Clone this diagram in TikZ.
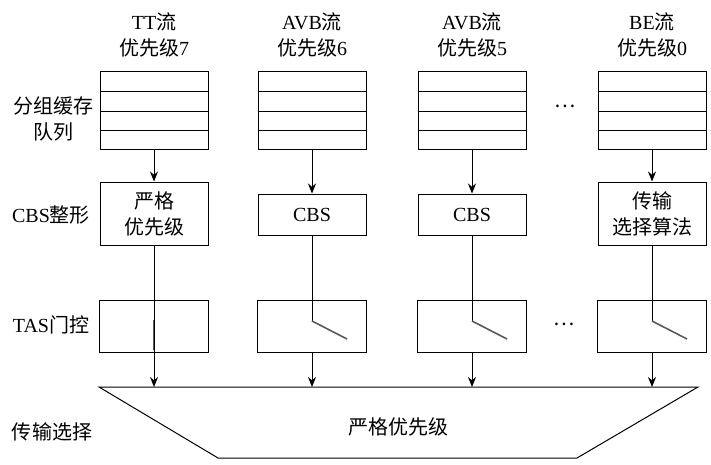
\documentclass[tikz,border=0pt]{standalone}
\usepackage{fontspec}
\setmainfont{Liberation Serif}
\newfontfamily\cjk{Noto Sans CJK SC}
\usetikzlibrary{calc,arrows.meta}
\tikzset{
  box/.style={draw, line width=1pt, minimum width=108pt, inner sep=0pt, align=center, font=\fontsize{20}{26}\selectfont},
  qbox/.style={box, minimum height=78pt},
  lbl/.style={align=center, font=\fontsize{20}{26}\selectfont, inner sep=0pt},
  conn/.style={line width=1pt, -{Stealth[length=10pt,width=8pt]}},
  wire/.style={line width=1pt},
  sw/.style={line width=1.6pt, gray!70!black},
}
\begin{document}
\begin{tikzpicture}[x=1pt,y=-1pt]
\useasboundingbox (0,0) rectangle (711,465);
% titles
\node[lbl] (t1) at (154,35) {TT{\cjk 流}\\{\cjk 优先级}7};
\node[lbl] (t2) at (312,35) {AVB{\cjk 流}\\{\cjk 优先级}6};
\node[lbl] (t3) at (472,35) {AVB{\cjk 流}\\{\cjk 优先级}5};
\node[lbl] (t4) at (652,35) {BE{\cjk 流}\\{\cjk 优先级}0};
% row labels
\node[lbl] (l1) at (53,119) {{\cjk 分组缓存}\\{\cjk 队列}};
\node[lbl] (l2) at (51,215) {CBS{\cjk 整形}};
\node[lbl] (l3) at (51,325) {TAS{\cjk 门控}};
\node[lbl] (l4) at (52,432) {\cjk 传输选择};
% queues
\foreach \i/\x in {1/154,2/312,3/472,4/652}{
  \node[qbox] (q\i) at (\x,111) {};
  \draw[line width=1.6pt] ($(q\i.north west)+(0,20)$) -- ($(q\i.north east)+(0,20)$);
  \draw[wire] ($(q\i.north west)+(0,40)$) -- ($(q\i.north east)+(0,40)$);
  \draw[wire] ($(q\i.north west)+(0,59)$) -- ($(q\i.north east)+(0,59)$);
}
\node[lbl] (d1) at (565,106) {{\cjk ⋯}};
% CBS row
\node[box, minimum height=63pt] (c1) at (154,213.5) {{\cjk 严格}\\{\cjk 优先级}};
\node[box, minimum height=41pt] (c2) at (312,214.5) {CBS};
\node[box, minimum height=41pt] (c3) at (472,214.5) {CBS};
\node[box, minimum height=63pt] (c4) at (652,213.5) {{\cjk 传输}\\{\cjk 选择算法}};
% TAS row
\foreach \i/\x in {1/154,2/312,3/472,4/652}{
  \node[box, minimum height=52pt, minimum width=109pt] (g\i) at (\x,326) {};
}
\node[lbl] (d2) at (564,324) {{\cjk ⋯}};
% transmission selection trapezoid
\coordinate (tl) at (99,387);
\coordinate (tr) at (698,387);
\coordinate (br) at (577,458);
\coordinate (bl) at (218,458);
\draw[line width=1pt] (tl) -- (tr) -- (br) -- (bl) -- cycle;
\node[lbl] (sp) at (398,427) {\cjk 严格优先级};
% connectors queue -> CBS
\foreach \i in {1,2,3,4}{
  \draw[conn] (q\i.south) -- (c\i.north);
}
% column 1: closed gate
\coordinate (s1a) at (154,320);
\coordinate (s1b) at (154,350);
\draw[sw] (s1a) -- (s1b);
\coordinate (e1) at (154,387);
\draw[conn] (c1.south) -- (e1);
% columns 2-4: open gates
\foreach \i/\x in {2/312,3/472,4/652}{
  \coordinate (p\i) at (\x,321);
  \coordinate (o\i) at (\x+35,339);
  \coordinate (e\i) at (\x,387);
  \draw[wire] (c\i.south) -- (p\i);
  \draw[sw] (p\i) -- (o\i);
  \draw[conn] (g\i.south) -- (e\i);
}
\end{tikzpicture}
\end{document}
